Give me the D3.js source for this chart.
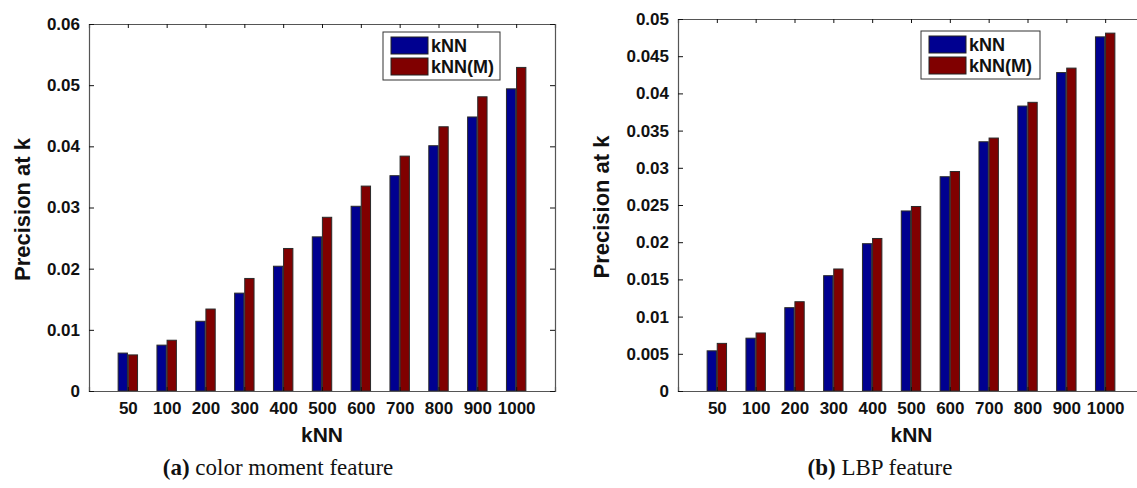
<!DOCTYPE html>
<html>
<head>
<meta charset="utf-8">
<script src="https://cdn.jsdelivr.net/npm/d3@7"></script>
<style>
  body { margin: 0; background: #fff; overflow: hidden; }
  svg { display: block; }
</style>
</head>
<body>
<svg id="chart" width="1137" height="488"></svg>
<script>
// Categories (kNN size) shared by both panels
const categories = ["50", "100", "200", "300", "400", "500", "600", "700", "800", "900", "1000"];
const seriesNames = ["kNN", "kNN(M)"];

// (a) color moment feature
const colorKnn  = [0.0062, 0.0075, 0.0114, 0.0160, 0.0204, 0.0252, 0.0302, 0.0352, 0.0401, 0.0448, 0.0494];
const colorKnnM = [0.0059, 0.0083, 0.0134, 0.0184, 0.0233, 0.0284, 0.0335, 0.0384, 0.0432, 0.0481, 0.0529];
const colorTicks = [0, 0.01, 0.02, 0.03, 0.04, 0.05, 0.06];

// (b) LBP feature
const lbpKnn  = [0.0054, 0.0071, 0.0112, 0.0155, 0.0198, 0.0242, 0.0288, 0.0335, 0.0383, 0.0428, 0.0476];
const lbpKnnM = [0.0064, 0.0078, 0.0120, 0.0164, 0.0205, 0.0248, 0.0295, 0.0340, 0.0388, 0.0434, 0.0481];
const lbpTicks = [0, 0.005, 0.01, 0.015, 0.02, 0.025, 0.03, 0.035, 0.04, 0.045, 0.05];

const colors = ["#000090", "#800000"];
const tickFont = "'Liberation Sans', Arial, sans-serif";

const svg = d3.select("#chart");

// Draw one grouped bar panel
function drawPanel(opts) {
    const { left, right, top, bottom } = opts.box;

    // categories sit at 1..n, axis runs 0..n+1 like MATLAB bar()
    const x = d3.scaleLinear().domain([0, categories.length + 1]).range([left, right]);
    const y = d3.scaleLinear().domain([0, d3.max(opts.ticks)]).range([bottom, top]);
    const sub = d3.scaleBand().domain(seriesNames).range([-0.25, 0.25]).paddingInner(0.08);

    const g = svg.append("g");

    // bars
    const rows = categories.map((c, i) => ({ i: i + 1, vals: [opts.a[i], opts.b[i]] }));
    g.selectAll("g.grp")
        .data(rows)
        .join("g")
        .attr("class", "grp")
        .selectAll("rect")
        .data(d => d.vals.map((v, k) => ({ pos: d.i, v: v, k: k })))
        .join("rect")
        .attr("x", d => x(d.pos + sub(seriesNames[d.k])))
        .attr("width", d => x(d.pos + sub(seriesNames[d.k]) + sub.bandwidth()) - x(d.pos + sub(seriesNames[d.k])))
        .attr("y", d => y(d.v))
        .attr("height", d => y(0) - y(d.v))
        .attr("fill", d => colors[d.k])
        .attr("stroke", "#2a2a2a")
        .attr("stroke-width", 1);

    // axes (MATLAB box style, inward ticks)
    const catTicks = d3.range(1, categories.length + 1);

    const xAxis = g.append("g")
        .attr("transform", `translate(0,${bottom})`)
        .call(d3.axisBottom(x).tickValues(catTicks).tickSize(-4).tickPadding(11)
            .tickFormat(d => categories[d - 1]));

    const xTop = g.append("g")
        .attr("transform", `translate(0,${top})`)
        .call(d3.axisTop(x).tickValues(catTicks).tickSize(-4).tickFormat(""));

    const yAxis = g.append("g")
        .attr("transform", `translate(${left},0)`)
        .call(d3.axisLeft(y).tickValues(opts.ticks).tickSize(-5).tickPadding(9)
            .tickFormat(d => d === 0 ? "0" : String(+d.toFixed(3))));

    const yRight = g.append("g")
        .attr("transform", `translate(${right},0)`)
        .call(d3.axisRight(y).tickValues(opts.ticks).tickSize(-5).tickFormat(""));

    [xAxis, xTop, yAxis, yRight].forEach(a => {
        a.select(".domain").attr("stroke", "#555").attr("stroke-width", 1.2);
        a.selectAll(".tick line").attr("stroke", "#111");
        a.selectAll("text")
            .attr("fill", "#111")
            .style("font-family", tickFont)
            .style("font-weight", "bold")
            .style("font-size", "17px");
    });

    // axis titles
    g.append("text")
        .attr("x", (left + Math.min(right, 1137)) / 2 + opts.xTitleShift)
        .attr("y", 442)
        .attr("text-anchor", "middle")
        .style("font-family", tickFont)
        .style("font-weight", "bold")
        .style("font-size", "21px")
        .attr("fill", "#111")
        .text("kNN");

    g.append("text")
        .attr("transform", `translate(${opts.yTitleX},${(top + bottom) / 2 + 2}) rotate(-90)`)
        .attr("text-anchor", "middle")
        .attr("dominant-baseline", "central")
        .style("font-family", tickFont)
        .style("font-weight", "bold")
        .style("font-size", "22px")
        .attr("fill", "#111")
        .text("Precision at k");

    // legend
    const lg = g.append("g").attr("transform", `translate(${opts.legend[0]},${opts.legend[1]})`);
    lg.append("rect")
        .attr("width", opts.legendW).attr("height", 48)
        .attr("fill", "#fff").attr("stroke", "#333").attr("stroke-width", 1);
    seriesNames.forEach((name, k) => {
        lg.append("rect")
            .attr("x", 8).attr("y", 5 + k * 21)
            .attr("width", 37).attr("height", 17)
            .attr("fill", colors[k]).attr("stroke", "#222");
        lg.append("text")
            .attr("x", 48).attr("y", 14 + k * 21)
            .attr("dominant-baseline", "central")
            .style("font-family", tickFont)
            .style("font-weight", "bold")
            .style("font-size", "18px")
            .attr("fill", "#111")
            .text(name);
    });

    // caption
    const cap = svg.append("text")
        .attr("x", opts.captionX)
        .attr("y", 475)
        .attr("text-anchor", "middle")
        .style("font-family", "'Liberation Serif', 'Times New Roman', serif")
        .style("font-size", "23px")
        .attr("fill", "#111");
    cap.append("tspan").style("font-weight", "bold").text(opts.captionTag);
    cap.append("tspan").text(" " + opts.caption);
}

drawPanel({
    box: { left: 89, right: 555, top: 24, bottom: 391 },
    a: colorKnn, b: colorKnnM, ticks: colorTicks,
    legend: [383, 32], legendW: 117,
    yTitleX: 22, xTitleShift: 0,
    captionX: 278, captionTag: "(a)", caption: "color moment feature"
});

drawPanel({
    box: { left: 678, right: 1144, top: 19, bottom: 391 },
    a: lbpKnn, b: lbpKnnM, ticks: lbpTicks,
    legend: [921, 31], legendW: 119,
    yTitleX: 601, xTitleShift: 4,
    captionX: 880, captionTag: "(b)", caption: "LBP feature"
});
</script>
</body>
</html>
